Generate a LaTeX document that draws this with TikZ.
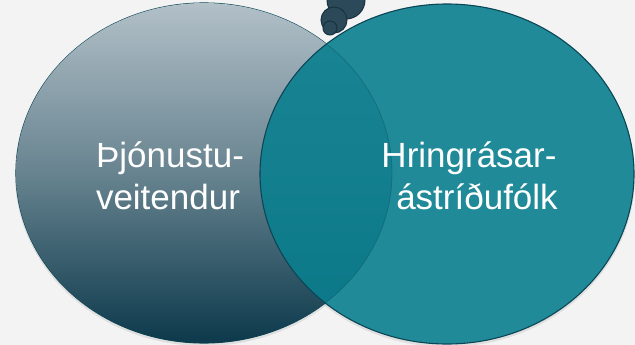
\documentclass[tikz,border=0pt]{standalone}
\usepackage{fontspec}
\setmainfont{Liberation Sans}
\usetikzlibrary{shadows}
\definecolor{bg}{HTML}{F3F3F3}
\definecolor{edge}{HTML}{0B4656}
\definecolor{topgray}{HTML}{B2C0C8}
\definecolor{botdark}{HTML}{0C394B}
\definecolor{teal}{HTML}{0A7F8F}
\definecolor{bubble}{HTML}{2B4959}
\definecolor{bubbleedge}{HTML}{18333F}
\tikzset{
  venn/.style={draw=edge, line width=1.1pt},
  bub/.style={fill=bubble, draw=bubbleedge, line width=1pt},
  lbl/.style={text=white, align=center, font=\fontsize{35}{42}\selectfont, inner sep=0pt}
}
\begin{document}
\begin{tikzpicture}[x=1pt,y=-1pt]
\useasboundingbox (0,0) rectangle (635,345);
\fill[bg] (0,0) rectangle (635,345);
% bubbles
\path[bub] (346,0) circle (19);
\path[bub] (334,20) circle (13);
\path[bub] (330,28) circle (7);
% shadows
\fill[black, opacity=0.08] (204,175) ellipse [x radius=189, y radius=171];
\fill[black, opacity=0.08] (447,176) ellipse [x radius=188, y radius=171];
% left ellipse
\path[venn, top color=topgray, bottom color=botdark, middle color=topgray!55!botdark]
  (204,173) ellipse [x radius=188, y radius=170];
\coordinate (lc) at (204,173);
% right ellipse
\fill[bg] (447,174) ellipse [x radius=187, y radius=170];
\begin{scope}
  \clip (204,173) ellipse [x radius=188, y radius=170];
  \path[top color=topgray, bottom color=botdark, middle color=topgray!55!botdark]
    (204,173) ellipse [x radius=188, y radius=170];
\end{scope}
\path[venn, fill=teal, fill opacity=0.9]
  (447,174) ellipse [x radius=187, y radius=170];
\begin{scope}
  \clip (447,174) ellipse [x radius=187, y radius=170];
  \draw[edge, line width=0.8pt, opacity=0.35] (204,173) ellipse [x radius=188, y radius=170];
\end{scope}
\coordinate (rc) at (447,174);
% labels
\node[lbl, anchor=base] (l1) at (170,167) {Þjónustu-};
\node[lbl, anchor=base] (l2) at (168,209) {veitendur};
\node[lbl, anchor=base] (r1) at (469,167) {Hringrásar-};
\node[lbl, anchor=base] (r2) at (477,209) {ástríðufólk};
\end{tikzpicture}
\end{document}
